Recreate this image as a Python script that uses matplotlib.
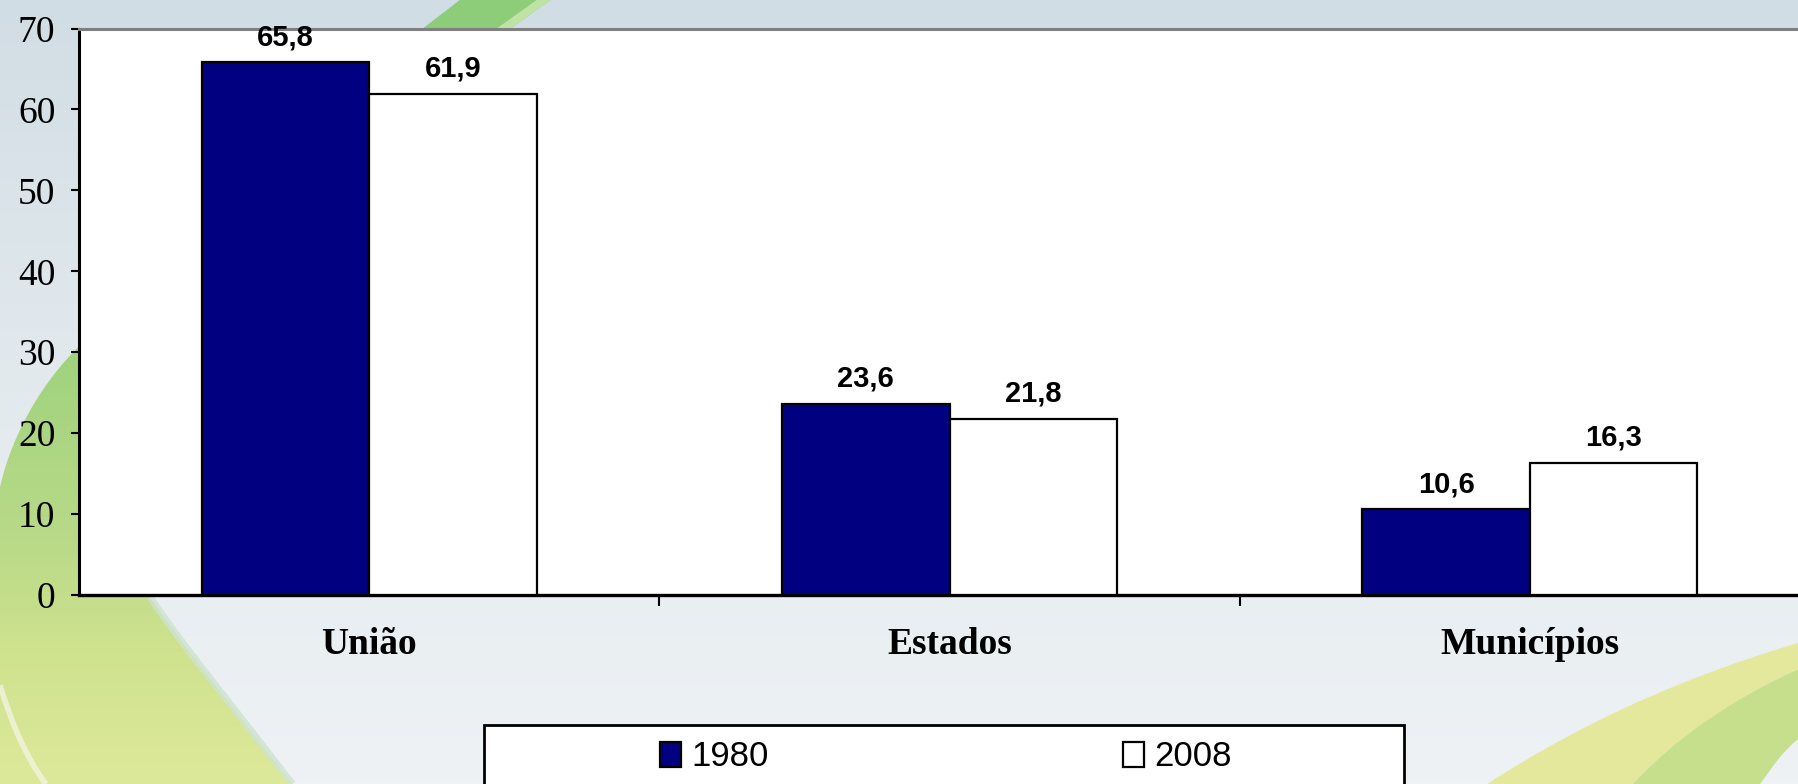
import numpy as np
import matplotlib
matplotlib.use("Agg")
import matplotlib.pyplot as plt
from matplotlib.path import Path
from matplotlib.patches import PathPatch, Rectangle
from matplotlib.colors import LinearSegmentedColormap

# ---------------- data ----------------
categories = ["União", "Estados", "Municípios"]
series_names = ["1980", "2008"]
values_1980 = [65.8, 23.6, 10.6]
values_2008 = [61.9, 21.8, 16.3]
labels_1980 = ["65,8", "23,6", "10,6"]
labels_2008 = ["61,9", "21,8", "16,3"]
y_ticks = [0, 10, 20, 30, 40, 50, 60, 70]

# ---------------- figure ----------------
W, H = 1798, 784
fig = plt.figure(figsize=(W / 100, H / 100), dpi=100)

# background (slide decoration), in a 1568 x 684 frame
bg = fig.add_axes([0, 0, 1, 1], zorder=-5)
bg.set_xlim(0, 1568)
bg.set_ylim(684, 0)
bg.axis("off")
grad = np.linspace(0, 1, 256).reshape(-1, 1)
bg_cmap = LinearSegmentedColormap.from_list("bg", ["#d1dde4", "#e3eaee", "#eef2f5"])
bg.imshow(grad, cmap=bg_cmap, extent=(0, 1568, 684, 0), aspect="auto", zorder=0)

C4 = Path.CURVE4
# left swoosh (visible in the left margin and below the axis)
green_cmap = LinearSegmentedColormap.from_list(
    "gr", [(0.0, "#9fd27e"), (0.45, "#b9da88"), (0.7, "#cfe28e"), (1.0, "#dde99a")])
verts = [(95, 280),
         (40, 320), (10, 380), (0, 425),
         (0, 684), (255, 684),
         (210, 625), (160, 565), (131, 521),
         (120, 440), (95, 280)]
codes = [Path.MOVETO, C4, C4, C4, Path.LINETO, Path.LINETO, C4, C4, C4,
         Path.LINETO, Path.CLOSEPOLY]
left_patch = PathPatch(Path(verts, codes), facecolor="none", edgecolor="none")
bg.add_patch(left_patch)
im1 = bg.imshow(grad, cmap=green_cmap, extent=(0, 1568, 684, 300), aspect="auto", zorder=1)
im1.set_clip_path(left_patch)
# pale inner arc
bg.add_patch(PathPatch(Path([(0, 598), (10, 630), (22, 660), (40, 684)],
                            [Path.MOVETO, C4, C4, C4]),
                       facecolor="none", edgecolor="#f3f4e0", linewidth=4, alpha=0.8, zorder=2))
# pale fringe along the right edge of the swoosh
bg.add_patch(PathPatch(Path([(131, 521), (160, 565), (210, 625), (255, 684)],
                            [Path.MOVETO, C4, C4, C4]),
                       facecolor="none", edgecolor="#cfe3d0", linewidth=5, alpha=0.8, zorder=2))

# top green band
bg.add_patch(PathPatch(Path([(401, 0), (480, 0), (438, 30), (362, 30), (401, 0)],
                            [Path.MOVETO, Path.LINETO, Path.LINETO, Path.LINETO, Path.CLOSEPOLY]),
                       facecolor="#8dcc78", edgecolor="none", zorder=2))
bg.add_patch(PathPatch(Path([(468, 0), (480, 0), (438, 30), (426, 30), (468, 0)],
                            [Path.MOVETO, Path.LINETO, Path.LINETO, Path.LINETO, Path.CLOSEPOLY]),
                       facecolor="#bfe3a4", edgecolor="none", zorder=2))

# bottom-right swoosh
codes_r = [Path.MOVETO, C4, C4, C4, Path.LINETO, C4, C4, C4, Path.CLOSEPOLY]
verts_r1 = [(1297, 684), (1380, 630), (1470, 590), (1568, 561),
            (1568, 584), (1510, 610), (1460, 645), (1424, 684), (1297, 684)]
bg.add_patch(PathPatch(Path(verts_r1, codes_r), facecolor="#e4e89c", edgecolor="none", zorder=2))
verts_r2 = [(1424, 684), (1460, 645), (1510, 610), (1568, 584),
            (1568, 645), (1555, 655), (1545, 670), (1535, 684), (1424, 684)]
bg.add_patch(PathPatch(Path(verts_r2, codes_r), facecolor="#c6df8c", edgecolor="none", zorder=2))

# ---------------- main axes ----------------
left = 79 / W
bottom = 1 - 595 / H
top = 1 - 28.5 / H
ax = fig.add_axes([left, bottom, 1 - left, top - bottom])
ax.set_facecolor("white")

x = np.arange(len(categories))
bw = 0.2885
b1 = ax.bar(x - bw / 2, values_1980, bw, color="#000080", edgecolor="black", linewidth=1.6,
            label=series_names[0], zorder=3)
b2 = ax.bar(x + bw / 2, values_2008, bw, color="white", edgecolor="black", linewidth=1.6,
            label=series_names[1], zorder=3)

for xi, v, t in zip(x - bw / 2, values_1980, labels_1980):
    ax.annotate(t, (xi, v), xytext=(0, 8), textcoords="offset points", ha="center", va="bottom",
                fontsize=21, fontweight="bold", family="Liberation Sans", zorder=5)
for xi, v, t in zip(x + bw / 2, values_2008, labels_2008):
    ax.annotate(t, (xi, v), xytext=(0, 8), textcoords="offset points", ha="center", va="bottom",
                fontsize=21, fontweight="bold", family="Liberation Sans", zorder=5)

ax.set_xlim(-0.5, 2.462)
ax.set_ylim(0, 70)
ax.set_yticks(y_ticks)
ax.set_yticklabels([str(t) for t in y_ticks], family="Liberation Serif", fontsize=27)
ax.tick_params(axis="y", direction="out", length=6, width=1.5, pad=11, colors="black")

ax.set_xticks([0.5, 1.5])
ax.set_xticklabels([])
ax.tick_params(axis="x", which="major", direction="out", length=8, width=1.5)
ax.set_xticks(x, minor=True)
ax.set_xticklabels(categories, minor=True, family="Liberation Serif", fontweight="bold", fontsize=27)
ax.tick_params(axis="x", which="minor", length=0, pad=23)

ax.spines["right"].set_visible(False)
ax.spines["top"].set_color("#808080")
ax.spines["top"].set_linewidth(2.2)
ax.spines["left"].set_linewidth(2.2)
ax.spines["bottom"].set_linewidth(2.4)

# ---------------- legend ----------------
frame = Rectangle((484 / W, -0.1), (1404 - 484) / W, (1 - 725 / H) + 0.1,
                  transform=fig.transFigure, facecolor="white", edgecolor="black",
                  linewidth=2, zorder=10)
fig.add_artist(frame)
leg = fig.legend(handles=[b1, b2], labels=series_names, loc="center",
                 bbox_to_anchor=(946 / W, 1 - 757 / H), ncol=2, frameon=False,
                 handlelength=0.6, handleheight=0.75, handletextpad=0.3, columnspacing=10.2,
                 prop={"family": "Liberation Sans", "size": 25})
leg.set_zorder(11)

fig.savefig("out.png", dpi=100)
